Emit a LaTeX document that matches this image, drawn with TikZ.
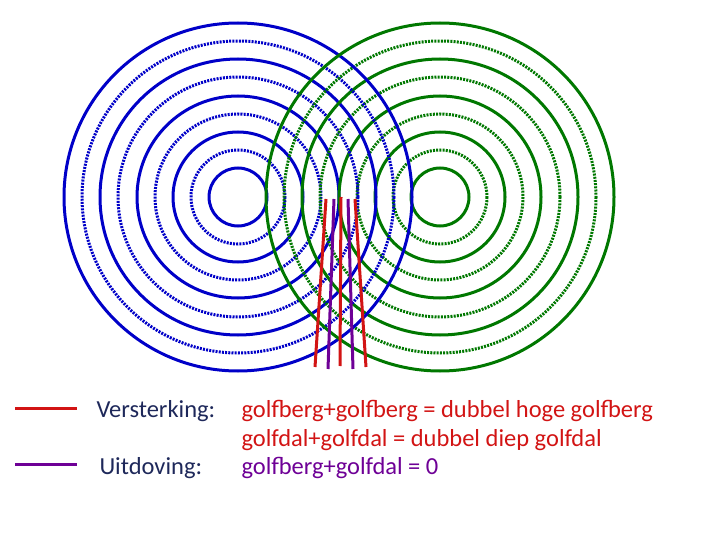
\documentclass[tikz,border=0pt]{standalone}
\usepackage{fontspec}
\setmainfont{Carlito}
\usepackage{tikz}
\usetikzlibrary{positioning}

\begin{document}
\begin{tikzpicture}[x=1pt,y=-1pt,line width=3pt,
  wave dot/.style={dash pattern=on 2pt off 1.2pt,line width=3pt},
  legend text/.style={anchor=base west,inner sep=0pt,font=\fontsize{24.5}{29}\selectfont}]
\useasboundingbox (0,0) rectangle (720,540);
\definecolor{wblue}{RGB}{0,0,200}
\definecolor{wgreen}{RGB}{0,120,0}
\definecolor{wred}{RGB}{210,20,20}
\definecolor{wpurple}{RGB}{110,0,150}
\definecolor{wtext}{RGB}{30,40,90}
\coordinate (blue) at (238,197);
\coordinate (green) at (440,197);
% rings
\foreach \r [count=\i] in {29,47,65,83,101,120,138,156,174}{
  \ifodd\i
    \draw[wblue] (blue) circle (\r);
    \draw[wgreen] (green) circle (\r);
  \else
    \draw[wblue,wave dot] (blue) circle (\r);
    \draw[wgreen,wave dot] (green) circle (\r);
  \fi
}
% interference lines
\draw[wred] (326,199) -- (315,367);
\draw[wred] (341,197) -- (340,366);
\draw[wred] (355,199) -- (366,367);
\draw[wpurple] (334,199) -- (328,369);
\draw[wpurple] (348,199) -- (353,369);
% legend
\coordinate (l1a) at (15,408);
\coordinate (l1b) at (77,408);
\coordinate (l2a) at (15,464);
\coordinate (l2b) at (77,464);
\draw[wred] (l1a) -- (l1b);
\draw[wpurple] (l2a) -- (l2b);
\node[legend text,text=wtext] (vs) at (95,417) {Versterking:};
\node[legend text,text=wtext] (ud) at (98,474) {Uitdoving:};
\node[legend text,text=wred] (t1) at (240,417) {golfberg+golfberg = dubbel hoge golfberg};
\node[legend text,text=wred] (t2) at (240,446) {golfdal+golfdal = dubbel diep golfdal};
\node[legend text,text=wpurple] (t3) at (240,474) {golfberg+golfdal = 0};
\end{tikzpicture}
\end{document}
